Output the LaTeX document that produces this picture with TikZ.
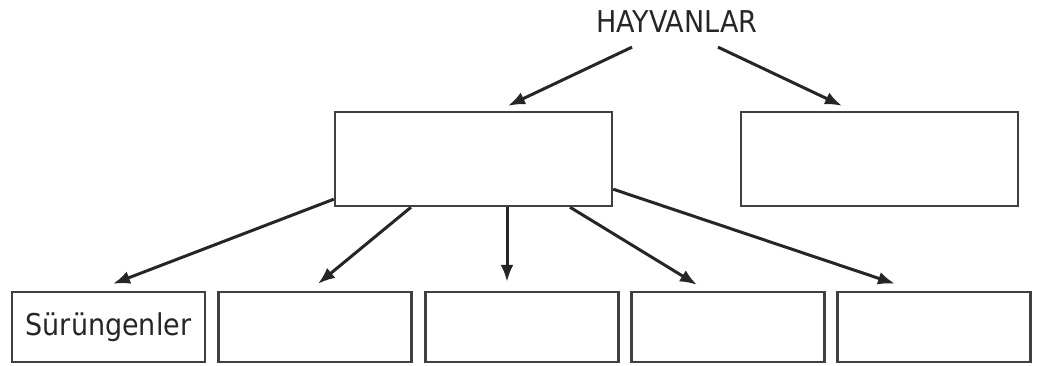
\documentclass[tikz,border=0pt]{standalone}
\usepackage{fontspec}
\setmainfont{DejaVu Sans Condensed}
\usetikzlibrary{arrows.meta}
\pgfdeclarelayer{edgelayer}
\pgfdeclarelayer{nodelayer}
\pgfsetlayers{edgelayer,nodelayer,main}
\tikzstyle{big_box}=[draw=black!75,line width=2.4pt,minimum width=277pt,minimum height=94pt,inner sep=0pt]
\tikzstyle{small_box}=[draw=black!75,line width=2.4pt,minimum width=193pt,minimum height=70pt,inner sep=0pt,font=\fontsize{30}{34}\selectfont,text=black!85]
\tikzstyle{title}=[font=\fontsize{30}{34}\selectfont,text=black!85,inner sep=3pt]
\tikzstyle{branch}=[-{Latex[length=17pt,width=13pt]},draw=black!85,line width=3pt]

\begin{document}
\begin{tikzpicture}[x=1pt,y=-1pt]
	\useasboundingbox (0, 0) rectangle (1043, 365);
	\begin{pgfonlayer}{nodelayer}
		\node [style=title] (0) at (677, 22) {HAYVANLAR};
		\node [style={big_box}] (1) at (473.5, 159) {};
		\node [style={big_box}] (2) at (879.5, 159) {};
		\node [style={small_box}] (3) at (108.5, 327) {Sürüngenler};
		\node [style={small_box}] (4) at (315, 327) {};
		\node [style={small_box}] (5) at (522, 327) {};
		\node [style={small_box}] (6) at (728, 327) {};
		\node [style={small_box}] (7) at (934, 327) {};
	\end{pgfonlayer}
	\begin{pgfonlayer}{edgelayer}
		\draw [style=branch] ([xshift=-45pt,yshift=-11pt]0.south) to ([xshift=34.5pt,yshift=5pt]1.north);
		\draw [style=branch] ([xshift=41pt,yshift=-11pt]0.south) to ([xshift=-37.5pt,yshift=5pt]2.north);
		\draw [style=branch] ([yshift=8pt]1.south west) to ([xshift=4.5pt,yshift=7pt]3.north);
		\draw [style=branch] ([xshift=-62.5pt]1.south) to ([xshift=3pt,yshift=7pt]4.north);
		\draw [style=branch] ([xshift=33.5pt]1.south) to ([xshift=-15pt,yshift=9pt]5.north);
		\draw [style=branch] ([xshift=96.5pt]1.south) to ([xshift=-31pt,yshift=6pt]6.north);
		\draw [style=branch] ([yshift=18pt]1.south east) to ([xshift=-39pt,yshift=7pt]7.north);
	\end{pgfonlayer}
\end{tikzpicture}
\end{document}
